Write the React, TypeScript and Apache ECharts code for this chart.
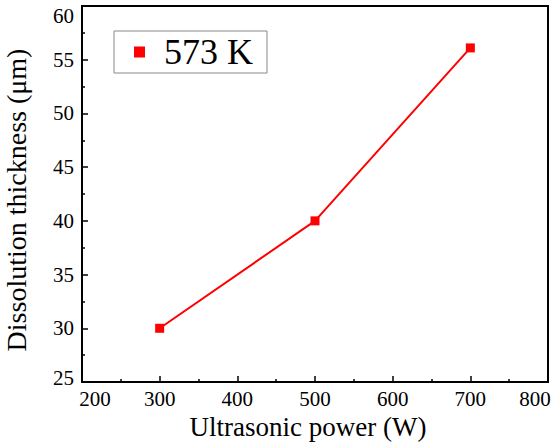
import React, { useEffect, useRef } from "react";
import * as echarts from "echarts";

const powers = [300, 500, 700];
const thickness = [30, 40, 56.1];
const seriesName = "573 K";
const xTicks = [200, 300, 400, 500, 600, 700, 800];
const yTicks = [25, 30, 35, 40, 45, 50, 55, 60];

const FONT = "Liberation Serif";
const LBL = { fontFamily: FONT, fontSize: 21, lineHeight: 20, color: "#000" };

export default function App() {
  const ref = useRef<HTMLDivElement>(null);
  useEffect(() => {
    if (!ref.current) return;
    const chart = echarts.init(ref.current, undefined, { renderer: "svg" });
    const xMin = xTicks[0];
    const xMax = xTicks[xTicks.length - 1];
    const yMin = yTicks[0];
    const yMax = yTicks[yTicks.length - 1];
    chart.setOption({
      animation: false,
      textStyle: { fontFamily: FONT, color: "#000" },
      grid: {
        left: 82,
        top: 6,
        right: 6,
        bottom: 60,
        containLabel: false,
        outerBoundsMode: "none",
        show: true,
        borderColor: "#000",
        borderWidth: 2,
        backgroundColor: "transparent",
      },
      legend: {
        data: [{ name: seriesName, icon: "rect" }],
        left: 114,
        top: 31,
        orient: "vertical",
        itemWidth: 11,
        itemHeight: 11,
        padding: [3, 14, 3, 20],
        borderColor: "#888",
        borderWidth: 1,
        backgroundColor: "#fff",
        textStyle: {
          fontFamily: FONT,
          fontSize: 36,
          lineHeight: 36,
          color: "#000",
          padding: [0, 0, 0, 14],
        },
      },
      xAxis: {
        type: "value",
        min: xMin,
        max: xMax,
        interval: 100,
        name: "Ultrasonic power (W)",
        nameLocation: "middle",
        nameGap: 31,
        nameMoveOverlap: false,
        nameTextStyle: {
          fontFamily: FONT,
          fontSize: 27,
          lineHeight: 27,
          color: "#000",
          padding: [0, 14, 0, 0],
        },
        axisLine: { show: true, lineStyle: { color: "#000", width: 2 } },
        axisTick: { show: true, inside: true, length: 6, lineStyle: { color: "#000", width: 1.5 } },
        minorTick: { show: true, splitNumber: 2, length: 3, lineStyle: { color: "#000", width: 1.5 } },
        axisLabel: {
          ...LBL,
          margin: 7,
          formatter: (v: number) =>
            v === xMin ? `{lo|${v}}` : v === xMax ? `{hi|${v}}` : `${v}`,
          rich: {
            lo: { ...LBL, padding: [0, 0, 0, 26] },
            hi: { ...LBL, padding: [0, 26, 0, 0] },
          },
        },
        splitLine: { show: false },
      },
      yAxis: {
        type: "value",
        min: yMin,
        max: yMax,
        interval: 5,
        name: "Dissolution thickness (\u03bcm)",
        nameLocation: "middle",
        nameGap: 52,
        nameMoveOverlap: false,
        nameTextStyle: {
          fontFamily: FONT,
          fontSize: 28,
          lineHeight: 28,
          color: "#000",
          padding: [0, 12, 0, 0],
        },
        axisLine: { show: true, lineStyle: { color: "#000", width: 2 } },
        axisTick: { show: true, inside: true, length: 6, lineStyle: { color: "#000", width: 1.5 } },
        minorTick: { show: true, splitNumber: 2, length: 3, lineStyle: { color: "#000", width: 1.5 } },
        axisLabel: {
          ...LBL,
          margin: 8,
          formatter: (v: number) =>
            v === yMax ? `{hi|${v}}` : v === yMin ? `{lo|${v}}` : `${v}`,
          rich: {
            hi: { ...LBL, padding: [20, 0, 0, 0] },
            lo: { ...LBL, padding: [0, 0, 8, 0] },
          },
        },
        splitLine: { show: false },
      },
      series: [
        {
          name: seriesName,
          type: "line",
          data: powers.map((p, i) => [p, thickness[i]]),
          symbol: "rect",
          symbolSize: 9,
          itemStyle: { color: "#ff0000" },
          lineStyle: { color: "#ff0000", width: 2 },
        },
      ],
    });
    return () => chart.dispose();
  }, []);
  return (
    <div
      ref={ref}
      style={{ position: "fixed", left: 0, top: 0, width: 554, height: 442, background: "#fff" }}
    />
  );
}
